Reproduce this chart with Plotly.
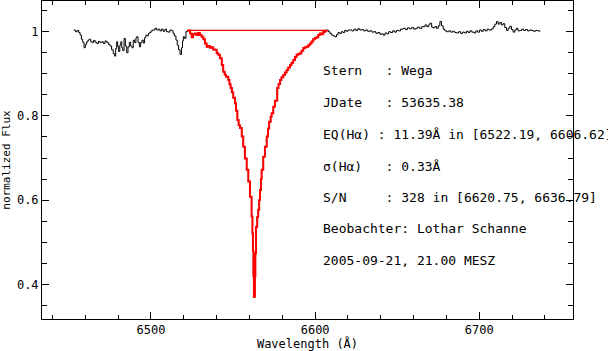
import plotly.graph_objects as go

# ---- data ----
wave_blue = [6453.0, 6454.0, 6455.0, 6456.0, 6456.8, 6457.6, 6458.4, 6459.2, 6460.0, 6460.8,
             6461.6, 6462.4, 6463.3, 6464.2, 6465.0, 6466.0, 6467.0, 6468.0, 6469.0, 6470.0,
             6471.0, 6472.0, 6473.0, 6474.0, 6475.0, 6476.0, 6477.0, 6477.9, 6478.5, 6479.1,
             6479.7, 6480.3, 6481.0, 6481.6, 6482.2, 6482.8, 6483.6, 6484.4, 6485.2, 6486.0,
             6486.8, 6487.6, 6488.4, 6489.2, 6490.0, 6490.8, 6491.3, 6492.1, 6492.9, 6493.7,
             6494.5, 6495.3, 6496.1, 6496.9, 6497.7, 6498.4, 6499.2, 6500.0, 6501.0, 6502.4,
             6503.4, 6504.4, 6505.4, 6506.4, 6507.4, 6508.5, 6509.5, 6510.5, 6511.5, 6512.6,
             6513.4, 6514.2, 6515.2, 6516.0, 6516.8, 6517.7, 6518.6, 6519.2, 6519.7, 6520.5,
             6521.3, 6522.2]
flux_blue = [1.004, 1.000, 1.003, 0.998, 0.992, 0.982, 0.975, 0.962, 0.970, 0.976,
             0.980, 0.982, 0.976, 0.974, 0.979, 0.975, 0.972, 0.977, 0.974, 0.976,
             0.972, 0.978, 0.975, 0.970, 0.966, 0.957, 0.948, 0.942, 0.960, 0.976,
             0.965, 0.953, 0.968, 0.976, 0.962, 0.955, 0.984, 0.966, 0.950, 0.964,
             0.975, 0.966, 0.962, 0.980, 0.974, 0.985, 0.988, 0.975, 0.964, 0.974,
             0.980, 0.973, 0.986, 0.992, 0.990, 0.996, 0.998, 1.002, 1.004, 1.008,
             1.004, 1.006, 1.002, 1.006, 1.001, 1.006, 1.000, 0.999, 1.004, 1.003,
             0.996, 0.990, 0.980, 0.968, 0.957, 0.946, 0.962, 0.978, 0.988, 0.984,
             1.000, 1.003]

wave_line = [6522.2, 6523.8, 6524.8, 6525.6, 6526.8, 6527.7, 6528.8, 6529.8, 6530.8, 6531.9,
             6532.9, 6533.9, 6535.0, 6535.9, 6537.0, 6537.9, 6539.0, 6540.0, 6541.0, 6542.0,
             6543.1, 6544.0, 6544.9, 6545.7, 6547.1, 6547.8, 6548.5, 6549.3, 6550.1, 6551.2,
             6551.8, 6552.6, 6553.4, 6554.2, 6555.3, 6556.2, 6557.2, 6558.3, 6559.3, 6560.3,
             6561.3, 6561.8, 6562.1, 6562.4, 6562.7, 6563.1, 6563.3, 6563.6, 6564.0, 6564.7,
             6565.3, 6565.9, 6566.4, 6567.0, 6567.4, 6568.4, 6569.4, 6570.5, 6571.3, 6572.0,
             6572.9, 6573.5, 6574.5, 6575.5, 6576.9, 6577.7, 6578.6, 6579.5, 6580.6, 6581.6,
             6582.6, 6583.6, 6584.7, 6585.6, 6586.7, 6587.7, 6588.7, 6589.7, 6590.7, 6591.7,
             6592.8, 6593.8, 6594.8, 6595.8, 6596.8, 6597.8, 6598.8, 6599.9, 6600.9, 6601.9,
             6602.9, 6603.9, 6604.9, 6606.0, 6607.0]
flux_line = [1.003, 0.996, 0.987, 0.994, 0.996, 0.992, 0.997, 0.992, 0.988, 0.982,
             0.972, 0.964, 0.966, 0.962, 0.963, 0.958, 0.957, 0.949, 0.945, 0.937,
             0.921, 0.905, 0.898, 0.893, 0.885, 0.875, 0.866, 0.856, 0.843, 0.830,
             0.812, 0.790, 0.778, 0.771, 0.751, 0.727, 0.699, 0.672, 0.644, 0.608,
             0.561, 0.521, 0.480, 0.420, 0.370, 0.372, 0.420, 0.474, 0.537, 0.560,
             0.577, 0.600, 0.624, 0.650, 0.672, 0.703, 0.727, 0.751, 0.770, 0.786,
             0.798, 0.806, 0.822, 0.836, 0.866, 0.876, 0.885, 0.892, 0.897, 0.903,
             0.909, 0.915, 0.921, 0.926, 0.933, 0.940, 0.945, 0.947, 0.949, 0.955,
             0.961, 0.963, 0.964, 0.968, 0.972, 0.977, 0.982, 0.985, 0.987, 0.992,
             0.996, 0.994, 0.999, 1.002, 1.004]

wave_red = [6608.0, 6609.0, 6610.0, 6611.0, 6612.0, 6613.0, 6614.0, 6615.0, 6616.0, 6617.0,
            6618.0, 6619.0, 6620.0, 6621.2, 6622.4, 6623.6, 6624.8, 6626.0, 6627.2, 6628.4,
            6629.6, 6630.8, 6632.0, 6633.4, 6634.6, 6635.8, 6637.0, 6638.2, 6639.4, 6640.5,
            6641.5, 6642.6, 6643.7, 6644.8, 6646.0, 6647.2, 6648.4, 6649.6, 6650.8, 6652.0,
            6653.7, 6655.0, 6656.2, 6657.5, 6658.8, 6660.0, 6661.2, 6662.4, 6663.6, 6665.0,
            6666.9, 6668.0, 6669.0, 6669.9, 6671.0, 6672.0, 6673.0, 6674.0, 6675.0, 6676.0,
            6677.0, 6678.0, 6679.0, 6680.2, 6681.4, 6682.6, 6683.8, 6685.0, 6686.2, 6687.4,
            6688.6, 6689.8, 6691.0, 6692.2, 6693.3, 6694.3, 6695.5, 6696.7, 6697.9, 6699.0,
            6700.2, 6701.3, 6702.4, 6703.6, 6704.8, 6706.0, 6707.5, 6708.5, 6709.5, 6710.5,
            6711.5, 6712.5, 6713.5, 6714.5, 6715.5, 6716.6, 6717.6, 6718.6, 6719.6, 6720.6,
            6721.6, 6722.6, 6723.6, 6724.7, 6725.8, 6727.0, 6728.2, 6729.4, 6730.6, 6731.8,
            6733.0, 6734.2, 6735.5, 6736.9]
flux_red = [1.000, 0.996, 0.992, 0.990, 0.988, 0.993, 0.998, 0.996, 1.000, 0.998,
            1.003, 1.001, 1.004, 1.004, 1.002, 1.006, 1.003, 1.007, 1.004, 1.005,
            1.002, 1.004, 1.001, 1.002, 0.999, 1.000, 0.996, 0.998, 0.994, 0.995,
            0.992, 0.997, 0.995, 1.000, 0.998, 1.002, 0.999, 1.003, 1.002, 1.006,
            1.008, 1.005, 1.009, 1.007, 1.010, 1.006, 1.008, 1.011, 1.008, 1.012,
            1.016, 1.012, 1.016, 1.020, 1.011, 1.009, 1.012, 1.008, 1.014, 1.024,
            1.014, 1.006, 1.002, 1.000, 1.002, 0.999, 1.001, 0.998, 0.997, 1.000,
            0.996, 0.999, 0.997, 1.001, 0.998, 1.002, 0.999, 0.997, 1.002, 0.999,
            1.004, 1.001, 1.005, 1.002, 1.006, 1.004, 1.007, 1.012, 1.018, 1.024,
            1.018, 1.022, 1.016, 1.019, 1.010, 1.003, 1.008, 1.013, 1.005, 0.999,
            1.004, 1.008, 1.002, 1.003, 1.006, 1.003, 1.005, 1.002, 1.004, 1.003,
            1.001, 1.003, 1.002, 1.000]

eq_range = [6522.19, 6606.62]
continuum_level = 1.003

info_lines = [
    "Stern   : Wega",
    "JDate   : 53635.38",
    "EQ(H\u03b1) : 11.39\u00c5 in [6522.19, 6606.62]",
    "\u03c3(H\u03b1)   : 0.33\u00c5",
    "S/N     : 328 in [6620.75, 6636.79]",
    "Beobachter: Lothar Schanne",
    "2005-09-21, 21.00 MESZ",
]
info_y = [0.9070, 0.8310, 0.7550, 0.6790, 0.6055, 0.5315, 0.4555]
info_x = 6603.8

x_range = [6433.6, 6757.1]
y_range = [0.3176, 1.0729]

MONO = "DejaVu Sans Mono"

fig = go.Figure()
fig.add_trace(go.Scatter(x=wave_blue + wave_line + wave_red,
                         y=flux_blue + flux_line + flux_red,
                         mode="lines", line=dict(color="black", width=1, shape="hv"),
                         showlegend=False, hoverinfo="skip"))
fig.add_trace(go.Scatter(x=wave_line, y=flux_line, mode="lines",
                         line=dict(color="#ff0000", width=2, shape="hv"),
                         showlegend=False, hoverinfo="skip"))
fig.add_trace(go.Scatter(x=eq_range, y=[continuum_level, continuum_level], mode="lines",
                         line=dict(color="#ff0000", width=1.2),
                         showlegend=False, hoverinfo="skip"))

for txt, yv in zip(info_lines, info_y):
    fig.add_annotation(x=info_x, y=yv, xref="x", yref="y", text=txt.replace(" ", "\u00a0"),
                       showarrow=False, xanchor="left", yanchor="middle",
                       font=dict(family=MONO, size=13, color="black"))

axis_common = dict(showline=True, linecolor="black", linewidth=1, mirror="ticks",
                   ticks="inside", tickcolor="black", tickwidth=1, ticklen=7,
                   showgrid=False, zeroline=False,
                   tickfont=dict(family=MONO, size=12, color="black"))

fig.update_xaxes(range=x_range, dtick=100, tick0=6500,
                 minor=dict(dtick=20, tick0=6500, ticks="inside", ticklen=4,
                            tickcolor="black", showgrid=False),
                 title=dict(text="Wavelength (\u00c5)", standoff=4,
                            font=dict(family=MONO, size=12, color="black")),
                 **axis_common)
fig.update_yaxes(range=y_range, dtick=0.2, tick0=0.4,
                 minor=dict(dtick=0.05, tick0=0.4, ticks="inside", ticklen=5,
                            tickcolor="black", showgrid=False),
                 title=dict(text="normalized Flux", standoff=6,
                            font=dict(family=MONO, size=11, color="black")),
                 **axis_common)

fig.update_layout(width=608, height=351, margin=dict(l=42, r=35, t=1, b=32),
                  plot_bgcolor="white", paper_bgcolor="white")

fig.write_html("out.html")
